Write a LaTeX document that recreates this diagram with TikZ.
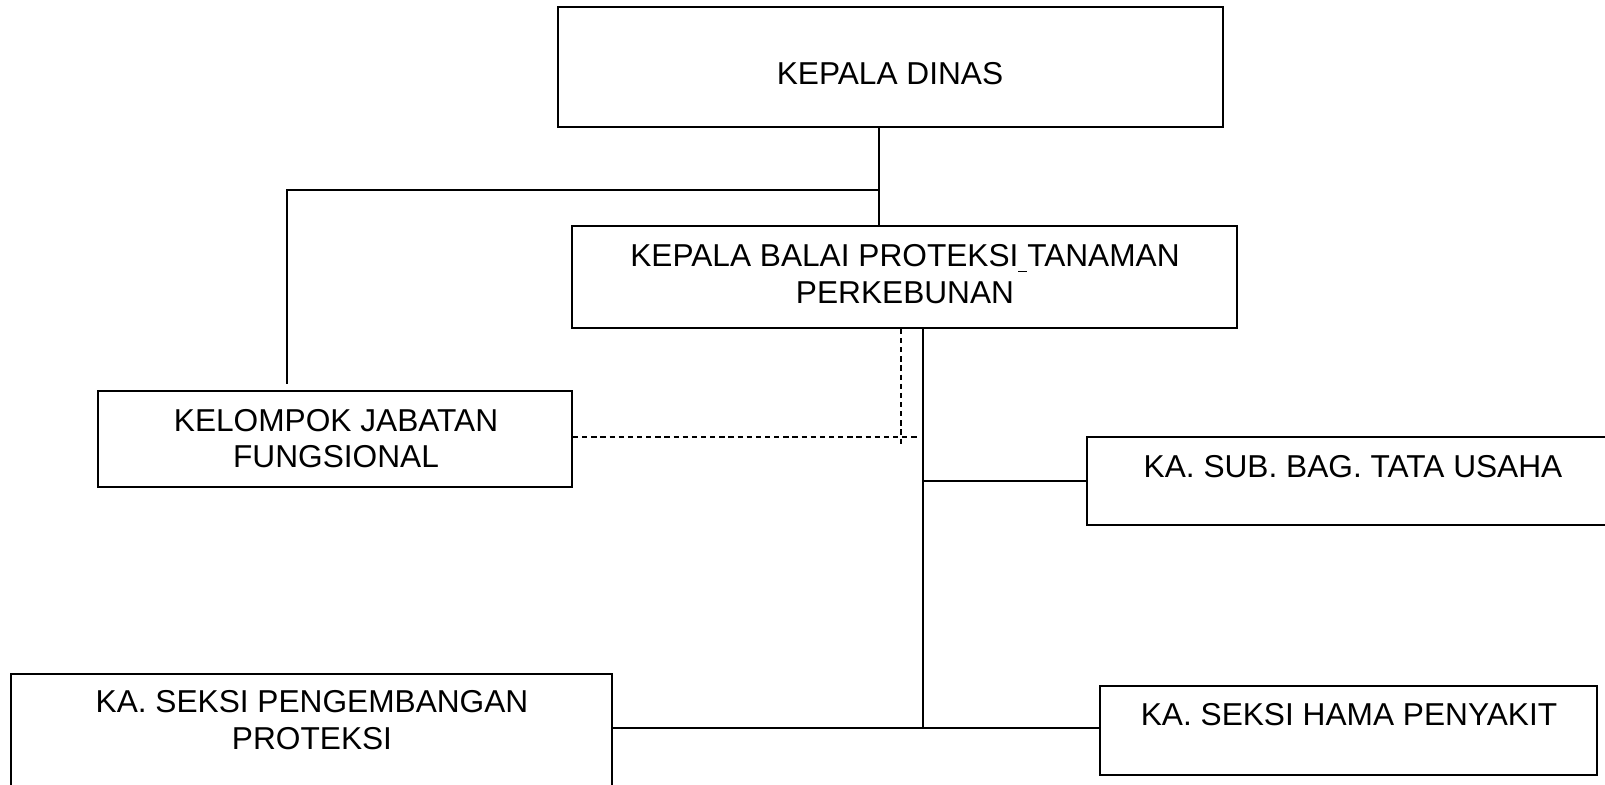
\documentclass[tikz,border=0pt]{standalone}
\usepackage{fontspec}
\setmainfont{Liberation Sans}
\tikzset{
  box/.style={draw, line width=0.5pt, inner sep=0pt},
  txt/.style={align=center, inner sep=0pt, font=\fontsize{9}{10.3}\selectfont},
  conn/.style={line width=0.5pt},
  dconn/.style={line width=0.5pt, dash pattern=on 1.5pt off 1.1pt}
}
\begin{document}
\begin{tikzpicture}[x=0.01cm, y=-0.01cm]
    \useasboundingbox (0, 0) rectangle (1605, 784);
    % kotak
    \node[box, minimum width=6.65cm, minimum height=1.2cm] (dinas) at (890.5, 67) {};
    \node[txt] (dinas-t) at (890, 74) {KEPALA DINAS};
    \node[box, minimum width=6.65cm, minimum height=1.02cm] (balai) at (904.5, 277) {};
    \node[txt] (balai-t) at (905, 274) {KEPALA BALAI PROTEKSI\underline{\ }TANAMAN\\PERKEBUNAN};
    \node[box, minimum width=4.74cm, minimum height=0.96cm] (kjf) at (335, 439) {};
    \node[txt] (kjf-t) at (336, 438.5) {KELOMPOK JABATAN\\FUNGSIONAL};
    \node[box, minimum width=5.4cm, minimum height=0.88cm] (tu) at (1357, 481) {};
    \node[txt] (tu-t) at (1353, 467) {KA. SUB. BAG. TATA USAHA};
    \node[box, minimum width=6.01cm, minimum height=1.4cm] (ksp) at (311.5, 744) {};
    \node[txt] (ksp-t) at (312, 720) {KA. SEKSI PENGEMBANGAN\\PROTEKSI};
    \node[box, minimum width=4.97cm, minimum height=0.89cm] (hama) at (1348.5, 730.5) {};
    \node[txt] (hama-t) at (1349, 715) {KA. SEKSI HAMA PENYAKIT};
    % garis
    \coordinate (j1) at (879, 190);
    \coordinate (kjf-top) at (287, 384);
    \draw[conn] (dinas.south -| j1) -- (balai.north -| j1);
    \draw[conn] (j1) -| (kjf-top);
    \coordinate (s) at (923, 0);
    \coordinate (lb) at (923, 728);
    \draw[conn] (balai.south -| s) -- (lb);
    \draw[conn] (tu.west |- 0, 481) -- (923, 481);
    \draw[conn] (ksp.east |- lb) -- (hama.west |- lb);
    \coordinate (d) at (901, 446);
    \coordinate (de) at (920, 437);
    \draw[dconn] (balai.south -| d) -- (d);
    \draw[dconn] (kjf.east |- de) -- (de);
\end{tikzpicture}
\end{document}
